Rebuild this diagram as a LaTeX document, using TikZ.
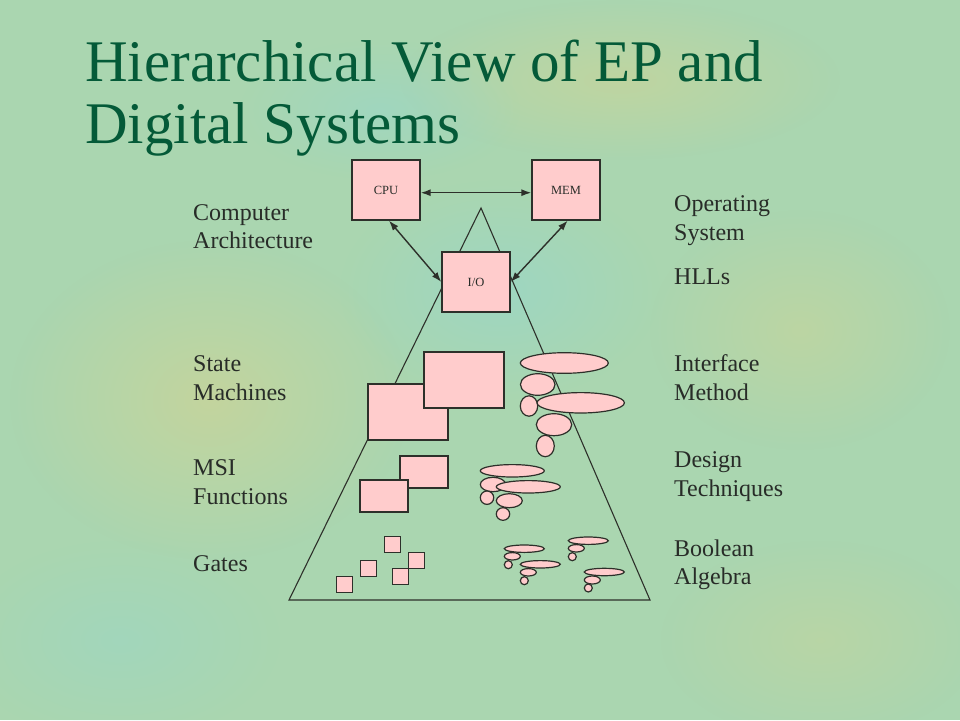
\documentclass[tikz,border=0pt]{standalone}
\usepackage{fontspec}
\setmainfont{Liberation Serif}
\usetikzlibrary{arrows.meta,fadings}
\tikzfading[name=softblob, inner color=transparent!0, outer color=transparent!100]
\definecolor{bgbase}{RGB}{170,214,176}
\definecolor{bgyel}{RGB}{206,212,150}
\definecolor{bgblue}{RGB}{150,214,205}
\definecolor{titlegreen}{RGB}{4,90,56}
\definecolor{labelgray}{RGB}{40,44,40}
\definecolor{pinkfill}{RGB}{255,204,204}
\definecolor{edgegray}{RGB}{45,48,42}
\tikzset{
  title/.style={anchor=base west,inner sep=0pt,text=titlegreen,font=\fontsize{59}{63}\selectfont},
  lbl/.style={anchor=base west,inner sep=0pt,text=labelgray,align=left,font=\fontsize{24}{28.3}\selectfont},
  unitbox/.style={draw=edgegray,fill=pinkfill,line width=1.3pt,minimum width=68pt,minimum height=60pt,inner sep=0pt,font=\fontsize{12.5}{14}\selectfont,text=labelgray},
  pinkshape/.style={draw=edgegray,fill=pinkfill,line width=1.2pt},
  tri/.style={draw=edgegray,line width=1.1pt},
  arr/.style={draw=edgegray,line width=1.4pt,{Latex[length=10pt,width=7pt]}-{Latex[length=10pt,width=7pt]}},
  blob/.style={path fading=softblob}
}
\begin{document}
\begin{tikzpicture}[x=1pt,y=-1pt]
\useasboundingbox (0,0) rectangle (960,720);
% background
\fill[bgbase] (0,0) rectangle (960,720);
\fill[bgyel,blob,opacity=0.7] (210,400) ellipse [x radius=200pt,y radius=160pt];
\fill[bgyel,blob,opacity=0.6] (620,80) ellipse [x radius=220pt,y radius=80pt];
\fill[bgyel,blob,opacity=0.5] (800,330) ellipse [x radius=150pt,y radius=120pt];
\fill[bgblue,blob,opacity=0.6] (500,290) ellipse [x radius=160pt,y radius=110pt];
\fill[bgblue,blob,opacity=0.5] (380,110) ellipse [x radius=140pt,y radius=70pt];
\fill[bgblue,blob,opacity=0.4] (120,640) ellipse [x radius=160pt,y radius=100pt];
\fill[bgyel,blob,opacity=0.4] (820,640) ellipse [x radius=160pt,y radius=100pt];
% title
\node[title] (t1) at (85,81) {Hierarchical View of EP and};
\node[title] (t2) at (85,143) {Digital Systems};
% labels left (base anchor = baseline of last line)
\node[lbl] (l1) at (193,248.3) {Computer\\Architecture};
\node[lbl] (l2) at (193,400) {State\\Machines};
\node[lbl] (l3) at (193,504) {MSI\\Functions};
\node[lbl] (l4) at (193,571.7) {Gates};
% labels right
\node[lbl] (r1) at (674,240) {Operating\\System};
\node[lbl] (r2) at (674,284) {HLLs};
\node[lbl] (r3) at (674,400) {Interface\\Method};
\node[lbl] (r4) at (674,496) {Design\\Techniques};
\node[lbl] (r5) at (674,584.3) {Boolean\\Algebra};
% triangle
\coordinate (apex) at (481,208);
\coordinate (bl) at (289,600);
\coordinate (br) at (650,600);
\draw[tri] (apex) -- (bl) -- (br) -- cycle;
% top units
\node[unitbox] (cpu) at (386,190) {CPU};
\node[unitbox] (mem) at (566,190) {MEM};
\node[unitbox] (io) at (476,282) {I/O};
\draw[arr] ([yshift=-2.7pt]cpu.east) -- ([yshift=-2.7pt]mem.west);
\draw[arr] ([xshift=3pt]cpu.south) -- (io.west);
\draw[arr] ([xshift=1.7pt]mem.south) -- (io.east);
% state machine rectangles
\draw[pinkshape] (368,384) rectangle (448,440);
\draw[pinkshape] (424,352) rectangle (504,408);
% MSI rectangles
\draw[pinkshape] (400,456) rectangle (448,488);
\draw[pinkshape] (360,480) rectangle (408,512);
% gates
\foreach \x/\y in {384.3/536.3,360.3/560.3,408.3/552.3,392.3/568.3,336.3/576.3}
  \draw[pinkshape] (\x,\y) rectangle ++(16,16);
% ellipses
\foreach \cx/\cy/\rx/\ry in {
  564.3/363/44/10.3, 537.7/384.5/17.3/10.8, 529/406/8.7/10.2,
  580.7/402.8/43.7/10.2, 554/424.7/17.7/11, 545.3/446/9/10.7,
  512.3/470.8/32/6.2, 493/484.5/12.7/7.2, 487/497.7/6.7/6.7,
  528.3/486.8/32/6.2, 509.3/500.7/13/7, 503/514/6.7/6.3,
  524.3/548.7/20/3.7, 512.3/556.3/8/3.7, 508.3/564.7/4/4,
  540.3/564.3/20/3.7, 528.3/572.3/8/3.7, 524.3/580.7/4/4,
  588.3/540.7/20/3.7, 576.3/548.3/8/3.7, 572.3/556.7/4/4,
  604.3/572/20/3.7, 592.3/580/8/4, 588.3/588/4/4}
  \draw[pinkshape] (\cx,\cy) ellipse [x radius=\rx pt, y radius=\ry pt];
\end{tikzpicture}
\end{document}
